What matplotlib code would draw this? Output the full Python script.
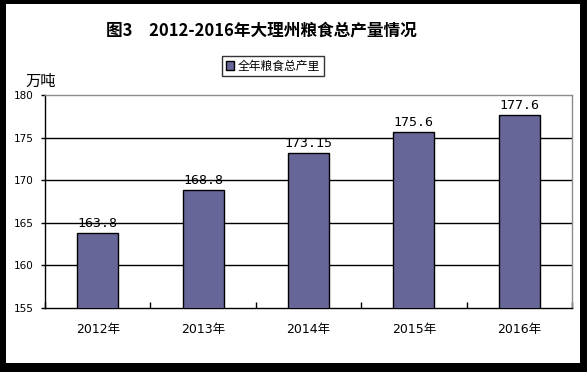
import matplotlib.pyplot as plt
from matplotlib.patches import Rectangle, Patch
import numpy as np

plt.rcParams['font.family'] = ['DejaVu Sans', 'Noto Sans CJK SC']

years = ['2012年', '2013年', '2014年', '2015年', '2016年']
output = [163.8, 168.8, 173.15, 175.6, 177.6]
value_labels = ['163.8', '168.8', '173.15', '175.6', '177.6']
yticks = [155, 160, 165, 170, 175, 180]

bar_color = '#666699'

fig = plt.figure(figsize=(5.87, 3.72), dpi=100, facecolor='black')
# white card inside the black frame
fig.patches.append(Rectangle((6 / 587, 1 - 363 / 372), 574 / 587, 359 / 372,
                             transform=fig.transFigure, facecolor='white',
                             edgecolor='none', zorder=-10))

ax = fig.add_axes([45 / 587, 1 - 308 / 372, 527 / 587, 213 / 372])
ax.set_facecolor('white')

x = np.arange(len(years))
ax.bar(x, output, width=0.39, color=bar_color, edgecolor='black',
       linewidth=1, zorder=3)

for xi, v, lab in zip(x, output, value_labels):
    ax.annotate(lab, (xi, v), xytext=(0, 2.5), textcoords='offset points',
                ha='center', va='bottom', fontsize=9.5,
                family=['DejaVu Sans Mono'], zorder=4)

ax.set_ylim(155, 180)
ax.set_xlim(-0.5, len(years) - 0.5)
ax.set_yticks(yticks)
ax.set_yticklabels([str(t) for t in yticks], fontsize=7.5)
ax.set_xticks(x)
ax.set_xticklabels(years, fontsize=9)
ax.set_xticks(np.arange(len(years) + 1) - 0.5, minor=True)
ax.tick_params(axis='x', which='major', length=0, pad=11)
ax.tick_params(axis='x', which='minor', direction='in', length=4, width=1)
ax.tick_params(axis='y', direction='out', length=3, width=1, pad=5)

for g in yticks[1:-1]:
    ax.axhline(g, color='black', linewidth=1, zorder=1)

ax.spines['left'].set_color('black')
ax.spines['bottom'].set_color('black')
ax.spines['top'].set_color('#8c8c8c')
ax.spines['right'].set_color('#8c8c8c')
for s in ax.spines.values():
    s.set_linewidth(1)

fig.text(261 / 587, 1 - 30 / 372, '图3　2012-2016年大理州粮食总产量情况',
         ha='center', va='center', fontsize=12, fontweight='bold',
         family=['Noto Sans CJK SC'])
fig.text(25 / 587, 1 - 81 / 372, '万吨', ha='left', va='center', fontsize=11,
         family=['Noto Sans CJK SC'])

leg = fig.legend(handles=[Patch(facecolor=bar_color, edgecolor='black')],
                 labels=['全年粮食总产里'], loc='center',
                 bbox_to_anchor=(273 / 587, 1 - 66 / 372),
                 frameon=True, fancybox=False, handlelength=0.7,
                 handleheight=0.7, handletextpad=0.3, borderpad=0.3,
                 prop={'family': ['Noto Sans CJK SC'], 'size': 8.5})
leg.get_frame().set_edgecolor('black')
leg.get_frame().set_linewidth(1)

fig.savefig('out.png', dpi=100, facecolor='black')
